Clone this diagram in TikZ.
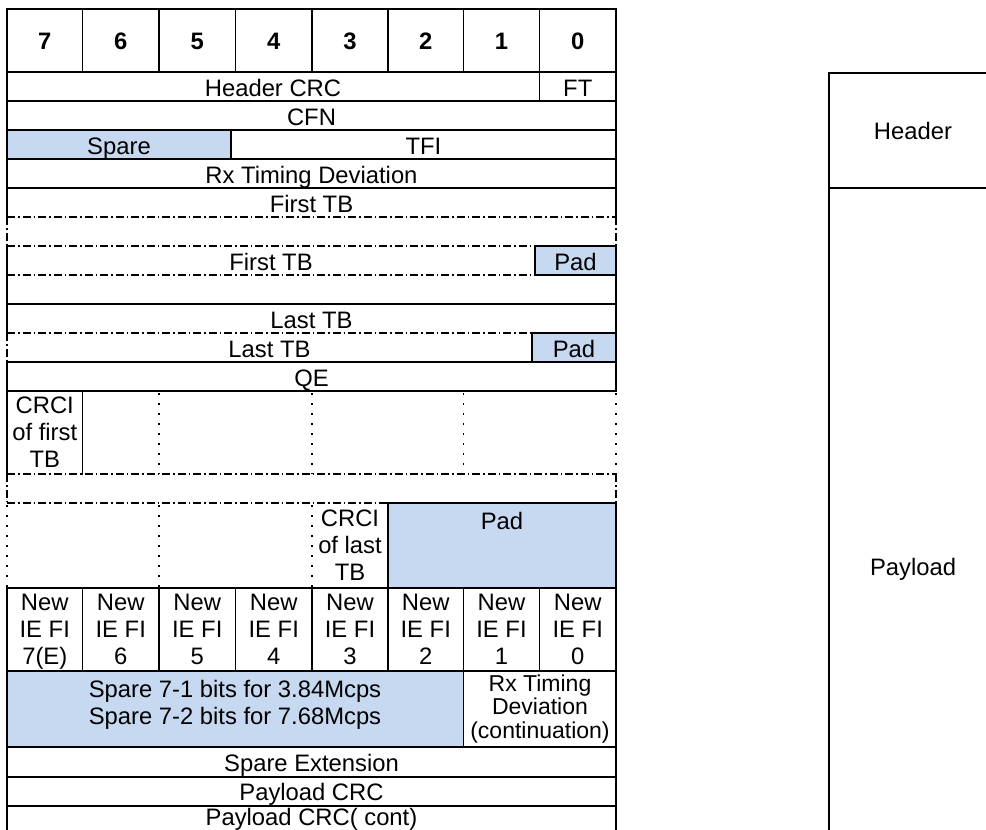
\documentclass[tikz,border=0pt]{standalone}
\usepackage{fontspec}
\setmainfont{Liberation Sans}
\begin{document}
\begin{tikzpicture}[x=1pt,y=-1pt,
  solidln/.style={line width=1.9pt, line cap=rect},
  dashdot/.style={line width=1.2pt, dash pattern=on 8pt off 3pt on 1.5pt off 3pt},
  dotln/.style={line width=1.5pt, dash pattern=on 1.6pt off 8.4pt},
  padfill/.style={fill=padblue},
  lbl/.style={inner sep=0pt, anchor=base, font=\fontsize{23.8}{27}\selectfont},
  mlbl/.style={inner sep=0pt, align=center, text depth=5pt, font=\fontsize{23.8}{27}\selectfont},
  clbl/.style={inner sep=0pt, align=center, text depth=5pt, font=\fontsize{23}{23.5}\selectfont},
  hdr/.style={inner sep=0pt, anchor=base, font=\fontsize{23.8}{27}\selectfont\bfseries}
]
\definecolor{padblue}{HTML}{C6D9F1}
\useasboundingbox (0,0) rectangle (986,830);
\fill[white] (0,0) rectangle (986,830);
\clip (0,0) rectangle (986,830);

% ---- coloured fields ----
\fill[padfill] (7,130) rectangle (231,159);
\fill[padfill] (535,246) rectangle (616,275);
\fill[padfill] (532,333) rectangle (616,362);
\fill[padfill] (388,503) rectangle (616,588);
\fill[padfill] (7,671) rectangle (463.5,747);

% ---- header row ----
\draw[solidln] (7,9) rectangle (616,72);
\foreach \x in {82.5,159,235.5,312,388,463.5,539.5}
  \draw[solidln] (\x,9) -- (\x,72);
\foreach \n/\x in {7/44.75,6/120.75,5/197.25,4/273.75,3/350,2/425.75,1/501.5,0/577.75}
  \node[hdr] (bit\n) at (\x,49.5) {\n};

% ---- solid horizontal lines ----
\foreach \y in {101,130,159,188,304,362,391,588,671,747,777,806}
  \draw[solidln] (7,\y) -- (616,\y);

% ---- solid borders ----
\draw[solidln] (7,72) -- (7,217);
\draw[solidln] (616,72) -- (616,217);
\draw[solidln] (7,246) -- (7,333);
\draw[solidln] (616,246) -- (616,391);
\draw[solidln] (7,362) -- (7,474);
\draw[solidln] (7,588) -- (7,850);
\draw[solidln] (616,503) -- (616,850);

% ---- inner solid separators ----
\draw[solidln] (539.5,72) -- (539.5,101);
\draw[solidln] (231,130) -- (231,159);
\draw[solidln] (535,246) -- (535,275) -- (616,275);
\draw[solidln] (535,246) -- (616,246);
\draw[solidln] (532,333) -- (532,362);
\draw[solidln] (532,333) -- (616,333);
\draw[solidln] (82.5,391) -- (82.5,474);
\draw[solidln] (388,503) -- (388,588);
\draw[solidln] (388,503) -- (616,503);
\foreach \x in {82.5,159,235.5,312,388,463.5,539.5}
  \draw[solidln] (\x,588) -- (\x,671);
\draw[solidln] (463.5,671) -- (463.5,747);

% ---- dash-dot lines ----
\draw[dashdot] (7,217) -- (616,217);
\draw[dashdot] (7,246) -- (535,246);
\draw[dashdot] (7,275) -- (535,275);
\draw[dashdot] (7,333) -- (532,333);
\draw[dashdot] (7,217) -- (7,246);
\draw[dashdot] (616,217) -- (616,246);
\draw[dashdot] (7,333) -- (7,362);
\draw[dashdot] (7,474) -- (616,474);
\draw[dashdot] (7,503) -- (388,503);
\draw[dashdot] (7,474) -- (7,503);
\draw[dashdot] (616,474) -- (616,503);

% ---- dotted lines ----
\foreach \x in {159,312,463.5,616}
  \draw[dotln] (\x,393) -- (\x,474);
\foreach \x in {7,159,312}
  \draw[dotln] (\x,505) -- (\x,588);

% ---- texts ----
\node[lbl] (hcrc) at (273,96) {Header CRC};
\node[lbl] (ft) at (577.75,96) {FT};
\node[lbl] (cfn) at (311.5,125) {CFN};
\node[lbl] (spare) at (119,154) {Spare};
\node[lbl] (tfi) at (423.5,154) {TFI};
\node[lbl] (rxtd) at (311.5,183) {Rx Timing Deviation};
\node[lbl] (ftb1) at (311.5,212) {First TB};
\node[lbl] (ftb2) at (271,270) {First TB};
\node[lbl] (pad1) at (575.5,270) {Pad};
\node[lbl] (ltb1) at (311.5,328) {Last TB};
\node[lbl] (ltb2) at (269.5,357) {Last TB};
\node[lbl] (pad2) at (574,357) {Pad};
\node[lbl] (qe) at (311.5,386) {QE};
\node[mlbl] (crcif) at (44.75,435) {CRCI\\of first\\TB};
\node[mlbl] (crcil) at (350,548) {CRCI\\of last\\TB};
\node[lbl] (pad3) at (502,529) {Pad};
\foreach \n/\t/\x in {7/7(E)/44.75,6/6/120.75,5/5/197.25,4/4/273.75,3/3/350,2/2/425.75,1/1/501.5,0/0/577.75}
  \node[mlbl] (ie\n) at (\x,632) {New\\IE FI\\\t};
\node[mlbl] (spbits) at (235,705) {Spare 7-1 bits for 3.84Mcps\\Spare 7-2 bits for 7.68Mcps};
\node[clbl] (rxcont) at (540,709) {Rx Timing\\Deviation\\(continuation)};
\node[lbl] (spext) at (311.5,771) {Spare Extension};
\node[lbl] (pcrc) at (311.5,800) {Payload CRC};
\node[lbl] (pcrc2) at (311.5,825) {Payload CRC( cont)};

% ---- right-hand box ----
\draw[solidln] (1000,73) -- (829,73) -- (829,960);
\draw[solidln] (829,188) -- (1000,188);
\node[lbl, anchor=center] (header) at (913,131) {Header};
\node[lbl, anchor=center] (payload) at (913,569) {Payload};
\end{tikzpicture}
\end{document}
